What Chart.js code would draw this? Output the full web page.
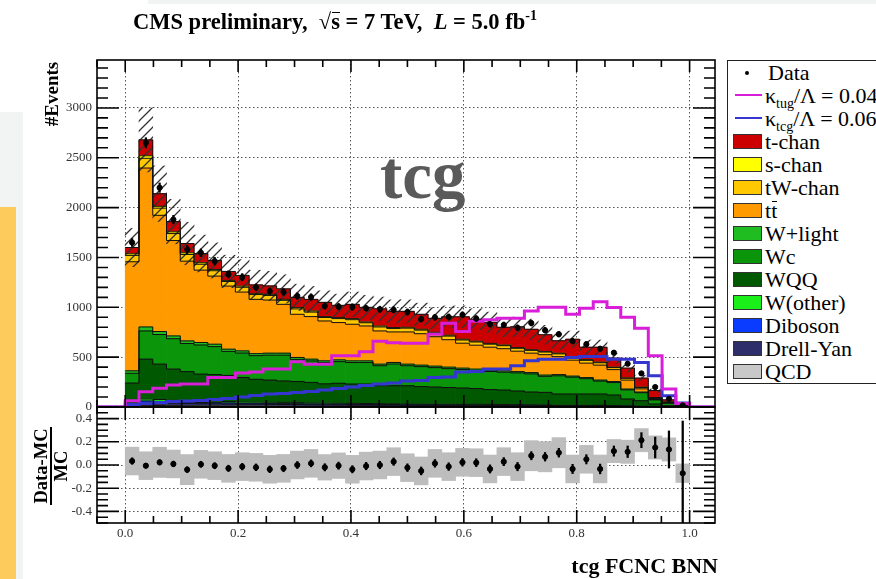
<!DOCTYPE html>
<html>
<head>
<meta charset="utf-8">
<script src="https://cdn.jsdelivr.net/npm/chart.js@4.4.1/dist/chart.umd.min.js"></script>
<style>
  body { margin: 0; width: 876px; height: 579px; overflow: hidden; position: relative; background: #fff;
         font-family: 'Liberation Serif', 'DejaVu Serif', serif; color: #000; }
  .abs { position: absolute; }
  #slideGrey { left: 0; top: 112px; width: 23px; height: 467px; background: #f2f4f4; }
  #slideBar { left: 0; top: 207px; width: 16px; height: 372px; background: #fdca5c; }
  #slideTop { left: 148px; top: 0; width: 728px; height: 4px; background: #f2f3f3; }
  #mainChart { left: 0; top: 0; }
  #ratioChart { left: 0; top: 391px; }
  #title { left: 133px; top: 11px; font-weight: bold; font-size: 22.5px; line-height: 22px; white-space: nowrap; }
  #title sup { font-size: 14px; vertical-align: 9px; line-height: 0; }
  .bar { position: relative; }
  .bar::before { content: ''; position: absolute; left: 1px; right: 0; top: 3px; border-top: 1.5px solid #000; }
  #ylab { left: 6px; top: 83px; width: 92px; height: 22px; line-height: 22px; text-align: center;
          font-weight: bold; font-size: 19px; transform: rotate(-90deg); transform-origin: 46px 11px; white-space: nowrap; }
  #rlab { left: 5px; top: 447px; width: 92px; height: 38px; transform: rotate(-90deg); transform-origin: 46px 19px;
          font-weight: bold; font-size: 18.5px; text-align: center; line-height: 18px; }
  #rlab .num { display: inline-block; border-bottom: 2px solid #000; padding: 0 1px; }
  #tag { left: 380px; top: 142px; font-weight: bold; font-size: 67px; line-height: 66px; color: #5a5a5a; }
  #xlab { right: 158px; top: 555px; font-weight: bold; font-size: 22px; line-height: 22px; white-space: nowrap; }
  #legend { left: 727px; top: 60px; width: 200px; height: 324px; border: 1px solid #222; background: #fff; box-sizing: border-box; }
  .row { position: absolute; left: 0; width: 190px; height: 23px; line-height: 23px; font-size: 22px; white-space: nowrap; }
  .row sub { font-size: 14px; vertical-align: -5px; line-height: 0; }
  .sw { position: absolute; left: 5px; top: 4px; width: 29px; height: 15px; border: 1px solid #333; box-sizing: border-box; }
  .ln { position: absolute; left: 7px; top: 10px; width: 27px; height: 2px; }
  .dot { position: absolute; left: 17px; top: 10px; width: 4px; height: 4px; border-radius: 50%; background: #000; }
  .txt { position: absolute; top: 0; }
</style>
</head>
<body>
<div id="slideGrey" class="abs"></div>
<div id="slideBar" class="abs"></div>
<div id="slideTop" class="abs"></div>
<canvas id="mainChart" class="abs" width="720" height="426"></canvas>
<canvas id="ratioChart" class="abs" width="720" height="188"></canvas>
<div id="title" class="abs">CMS preliminary,&nbsp; √<span class="bar">s</span> = 7 TeV,&nbsp; <i>L</i> = 5.0 fb<sup>-1</sup></div>
<div id="ylab" class="abs">#Events</div>
<div id="rlab" class="abs"><span class="num">Data-MC</span><br>MC</div>
<div id="tag" class="abs">tcg</div>
<div id="xlab" class="abs">tcg FCNC BNN</div>
<div id="legend" class="abs"></div>
<script>
// 41 equal bins of the BNN output between 0 and 1
const nBins = 41;
const binEdges = Array.from({ length: nBins + 1 }, (_, i) => i / nBins);
const binCenters = binEdges.slice(0, nBins).map(e => e + 0.5 / nBins);

// background components, bottom of the stack first
const qcd      = [8,16,15,14,13,12,12,11,10,10,10,9,9,8,8,8,7,7,7,7,6,6,6,6,6,5,5,5,5,5,4,4,4,4,3,3,2,2,1,1,0];
const drellYan = [14,28,26,25,23,21,20,19,18,18,17,16,15,15,14,13,13,12,12,12,11,11,11,10,10,9,9,9,8,8,8,7,7,6,6,5,4,3,2,1,0];
const diboson  = [8,16,15,14,13,12,12,11,10,10,10,9,9,8,8,8,7,7,7,7,6,6,6,6,6,6,5,5,5,5,5,4,4,4,4,3,3,2,2,1,1];
const wOther   = [10,20,19,17,16,15,14,14,13,12,11,12,11,11,10,9,9,9,8,7,9,8,7,7,6,7,7,6,6,5,5,5,4,4,4,4,3,3,1,0,0];
const wQQ      = [200,400,355,310,290,270,268,262,245,228,222,215,212,205,192,200,194,195,180,180,181,174,170,166,162,158,149,145,136,127,125,110,111,112,113,105,68,53,24,10,2];
const wc       = [98,283,297,305,282,292,280,241,245,237,250,259,222,215,213,217,216,216,200,218,201,200,195,190,186,181,181,179,182,182,161,183,169,154,130,125,92,80,41,25,8];
const wLight   = [25,40,30,28,26,25,24,22,22,20,20,20,19,18,18,18,17,17,16,16,16,15,15,15,14,14,14,13,13,13,12,12,11,11,10,10,8,7,4,2,1];
const ttbar    = [1094,1594,1166,957,800,726,683,633,590,545,533,490,433,427,400,374,367,350,333,306,323,315,295,275,250,240,230,223,205,195,205,180,160,145,150,120,90,32,10,6,2];
const tWchan   = [64,98,72,70,67,59,54,46,48,48,46,40,54,45,35,40,46,32,40,35,38,36,36,36,32,32,30,30,29,28,26,28,28,28,24,20,18,14,8,4,2];
const sChan    = [16,25,18,17,17,15,13,11,12,12,11,10,13,11,9,10,11,8,10,9,9,9,9,9,8,8,8,7,7,7,7,7,7,7,6,5,4,4,2,1,0];
const tChan    = [63,160,127,103,93,93,90,90,107,85,85,105,103,117,143,123,143,147,172,163,160,150,140,185,225,220,212,178,209,205,167,125,175,125,150,90,98,90,70,21,2];

// relative MC uncertainty (hatched band / grey ratio band)
const mcRelErr = [0.12,0.12,0.13,0.12,0.13,0.12,0.12,0.12,0.12,0.12,0.12,0.12,0.12,0.12,0.11,0.11,0.12,0.12,0.12,0.12,0.12,0.12,0.12,0.12,0.12,0.12,0.12,0.12,0.12,0.13,0.13,0.13,0.12,0.12,0.12,0.1,0.1,0.1,0.1,0.1,0.08];

// FCNC signal templates
const sigTug = [63,153,187,220,230,230,297,297,340,350,380,380,453,430,430,513,513,553,660,645,640,640,730,840,757,860,875,890,890,963,1000,1000,930,990,1055,997,900,790,513,180,35];
const sigTcg = [25,35,45,55,60,65,75,85,100,115,130,135,145,155,170,185,200,215,230,240,260,265,295,300,350,355,380,380,413,463,480,480,497,507,507,480,480,447,313,113,40];

// observed events
const dataCounts = [1650,2650,2200,1880,1580,1547,1463,1330,1302,1200,1163,1153,1113,1103,1013,1007,1003,990,980,975,953,883,900,903,925,887,830,823,795,842,770,730,660,630,585,545,434,337,200,82,17];
const dataErr    = [40,51,47,43,40,39,38,36,36,35,34,34,33,33,32,32,32,31,31,31,31,30,30,30,30,30,29,29,28,29,28,27,26,25,24,23,21,18,14,9,4];

// (Data-MC)/MC per bin
const ratioVals = [0.034,-0.006,0.023,0.009,-0.04,0.006,-0.006,-0.029,-0.014,-0.02,-0.037,-0.029,0.0,0.014,-0.02,-0.006,-0.037,-0.009,0.0,0.029,-0.023,-0.051,0.014,-0.014,0.023,0.02,-0.034,0.029,-0.014,0.08,0.071,0.106,-0.034,0.049,-0.034,0.12,0.114,0.214,0.151,0.134,-0.071];
const ratioErr  = [0.028,0.02,0.022,0.024,0.025,0.026,0.026,0.027,0.028,0.029,0.029,0.029,0.03,0.03,0.031,0.031,0.031,0.032,0.032,0.032,0.033,0.034,0.033,0.033,0.033,0.034,0.035,0.035,0.036,0.035,0.037,0.038,0.04,0.04,0.042,0.044,0.05,0.065,0.09,0.16,0.45];

const mainTicks = [0, 500, 1000, 1500, 2000, 2500, 3000];
const ratioTicks = [-0.4, -0.2, 0, 0.2, 0.4];
const xTicks = [0, 0.2, 0.4, 0.6, 0.8, 1.0];

const tugColor = '#d81ed8';
const tcgColor = '#3535d0';

const mcSeries = [
  { html: 'QCD', values: qcd, color: '#c8c8c8' },
  { html: 'Drell-Yan', values: drellYan, color: '#2e2e6a' },
  { html: 'Diboson', values: diboson, color: '#0a3cff' },
  { html: 'W(other)', values: wOther, color: '#1aef1a' },
  { html: 'WQQ', values: wQQ, color: '#005800' },
  { html: 'Wc', values: wc, color: '#0b950b' },
  { html: 'W+light', values: wLight, color: '#1fbd1f' },
  { html: 't<span class="bar">t</span>', values: ttbar, color: '#ff9a00' },
  { html: 'tW-chan', values: tWchan, color: '#ffc800' },
  { html: 's-chan', values: sChan, color: '#ffff00' },
  { html: 't-chan', values: tChan, color: '#cc0000' }
];

const mcTotal = binCenters.map((_, i) => mcSeries.reduce((sum, s) => sum + s.values[i], 0));

Chart.defaults.font.family = "'Liberation Serif', serif";

function hatchPattern() {
  const c = document.createElement('canvas');
  c.width = 10; c.height = 10;
  const g = c.getContext('2d');
  g.strokeStyle = '#333';
  g.lineWidth = 1.3;
  g.beginPath();
  g.moveTo(0, 10); g.lineTo(10, 0);
  g.moveTo(-2, 2); g.lineTo(2, -2);
  g.moveTo(8, 12); g.lineTo(12, 8);
  g.stroke();
  return g.createPattern(c, 'repeat');
}

// frame with inward tick marks on all four sides
const frameTicks = {
  id: 'frameTicks',
  afterDatasetsDraw(chart, args, o) {
    const { ctx, chartArea: a } = chart;
    const xs = chart.scales.x, ys = chart.scales.y;
    ctx.save();
    ctx.strokeStyle = '#000';
    ctx.lineWidth = 1.6;
    ctx.beginPath();
    for (let k = Math.ceil(xs.min / o.xStep - 1e-6); k <= Math.floor(xs.max / o.xStep + 1e-6); k++) {
      const px = xs.getPixelForValue(k * o.xStep);
      const len = k % o.xEvery === 0 ? o.xMajor : o.xMinor;
      ctx.moveTo(px, a.bottom); ctx.lineTo(px, a.bottom - len);
      ctx.moveTo(px, a.top); ctx.lineTo(px, a.top + len);
    }
    for (let k = Math.ceil(ys.min / o.yStep - 1e-6); k <= Math.floor(ys.max / o.yStep + 1e-6); k++) {
      const py = ys.getPixelForValue(k * o.yStep);
      const len = k % o.yEvery === 0 ? o.yMajor : o.yMinor;
      ctx.moveTo(a.left, py); ctx.lineTo(a.left + len, py);
      ctx.moveTo(a.right, py); ctx.lineTo(a.right - len, py);
    }
    ctx.stroke();
    ctx.strokeRect(a.left, a.top, a.right - a.left, a.bottom - a.top);
    ctx.restore();
  }
};

const dottedGrid = { color: '#555', lineWidth: 1, drawTicks: false };
const dottedBorder = { display: false, dash: [1.5, 2.5] };
const tickFont = { family: "'Liberation Serif', serif", size: 13 };

// stacked background bars
const mcBars = mcSeries.map(s => ({
  type: 'bar',
  data: s.values.map((v, i) => ({ x: binCenters[i], y: v })),
  backgroundColor: s.color,
  borderWidth: 0,
  stack: 'mc',
  order: 6,
  barPercentage: 1,
  categoryPercentage: 1
}));

// black step outline on top of every stacked component
const mcOutlines = mcSeries.map(s => {
  const pts = s.values.map((v, i) => ({ x: binEdges[i], y: v }));
  pts.push({ x: 1, y: 0 });
  return {
    type: 'line', data: pts, stepped: 'before', borderColor: '#111', borderWidth: 1,
    pointRadius: 0, fill: false, stack: 'outline', order: 4
  };
});

function signalLine(values, color) {
  const pts = [{ x: -0.05, y: 0 }];
  values.forEach((v, i) => pts.push({ x: binEdges[i], y: v }));
  pts.push({ x: 1, y: 0 }, { x: 1.045, y: 0 });
  return { type: 'line', data: pts, stepped: 'before', borderColor: color, borderWidth: 3, pointRadius: 0, fill: false, order: 3 };
}

const hatchBand = {
  type: 'bar',
  data: mcTotal.map((t, i) => ({ x: binCenters[i], y: [t * (1 - mcRelErr[i]), t * (1 + mcRelErr[i])] })),
  backgroundColor: hatchPattern(),
  borderWidth: 0,
  grouped: false,
  order: 5,
  barPercentage: 1,
  categoryPercentage: 1
};

const dataErrBars = {
  type: 'bar',
  data: dataCounts.map((d, i) => ({ x: binCenters[i], y: [d - dataErr[i], d + dataErr[i]] })),
  backgroundColor: '#000',
  borderWidth: 0,
  grouped: false,
  barThickness: 1.6,
  order: 2
};

const dataPoints = {
  type: 'line',
  data: dataCounts.map((d, i) => ({ x: binCenters[i], y: d })),
  showLine: false,
  pointRadius: 2.6,
  pointBackgroundColor: '#000',
  pointBorderColor: '#000',
  order: 1
};

new Chart(document.getElementById('mainChart'), {
  type: 'bar',
  data: {
    datasets: [...mcBars, hatchBand, ...mcOutlines, signalLine(sigTug, tugColor), signalLine(sigTcg, tcgColor), dataErrBars, dataPoints]
  },
  options: {
    responsive: false,
    animation: false,
    layout: { padding: { top: 60, right: 3, left: 0, bottom: 16 } },
    plugins: {
      legend: { display: false },
      tooltip: { enabled: false },
      frameTicks: { xStep: 0.05, xEvery: 4, xMajor: 12, xMinor: 7, yStep: 100, yEvery: 5, yMajor: 22, yMinor: 11 }
    },
    scales: {
      x: {
        type: 'linear', min: -0.05, max: 1.045, offset: false,
        afterBuildTicks: s => { s.ticks = xTicks.map(v => ({ value: v })); },
        afterFit: s => { s.height = 3; },
        ticks: { display: false },
        grid: { ...dottedGrid, offset: false },
        border: dottedBorder
      },
      y: {
        type: 'linear', min: 0, max: 3481,
        afterBuildTicks: s => { s.ticks = mainTicks.map(v => ({ value: v })); },
        afterFit: s => { s.width = 97; },
        ticks: { font: tickFont, color: '#333', padding: 5, callback: v => String(v) },
        grid: dottedGrid,
        border: dottedBorder
      }
    }
  },
  plugins: [frameTicks]
});

// ratio panel
const ratioBand = {
  type: 'bar',
  data: ratioVals.map((r, i) => ({ x: binCenters[i], y: [r - mcRelErr[i], r + mcRelErr[i]] })),
  backgroundColor: '#bdbdbd',
  borderWidth: 0,
  order: 3,
  barPercentage: 1,
  categoryPercentage: 1
};

const ratioErrBars = {
  type: 'bar',
  data: ratioVals.map((r, i) => ({ x: binCenters[i], y: [r - ratioErr[i], r + ratioErr[i]] })),
  backgroundColor: '#000',
  borderWidth: 0,
  grouped: false,
  barThickness: 1.6,
  order: 2
};

const ratioPoints = {
  type: 'line',
  data: ratioVals.map((r, i) => ({ x: binCenters[i], y: r })),
  showLine: false,
  pointRadius: 2.6,
  pointBackgroundColor: '#000',
  pointBorderColor: '#000',
  order: 1
};

new Chart(document.getElementById('ratioChart'), {
  type: 'bar',
  data: { datasets: [ratioBand, ratioErrBars, ratioPoints] },
  options: {
    responsive: false,
    animation: false,
    layout: { padding: { top: 16, right: 3, left: 0, bottom: 0 } },
    plugins: {
      legend: { display: false },
      tooltip: { enabled: false },
      frameTicks: { xStep: 0.05, xEvery: 4, xMajor: 13, xMinor: 7, yStep: 0.05, yEvery: 4, yMajor: 22, yMinor: 11 }
    },
    scales: {
      x: {
        type: 'linear', min: -0.05, max: 1.045, offset: false,
        afterBuildTicks: s => { s.ticks = xTicks.map(v => ({ value: v })); },
        afterFit: s => { s.height = 56; },
        ticks: { font: tickFont, color: '#333', padding: 3, callback: v => v.toFixed(1) },
        grid: { ...dottedGrid, offset: false },
        border: dottedBorder
      },
      y: {
        type: 'linear', min: -0.5, max: 0.5,
        afterBuildTicks: s => { s.ticks = ratioTicks.map(v => ({ value: v })); },
        afterFit: s => { s.width = 97; },
        ticks: { font: tickFont, color: '#333', padding: 5, callback: v => v.toFixed(1) },
        grid: dottedGrid,
        border: dottedBorder
      }
    }
  },
  plugins: [frameTicks]
});

// legend box
const legendRows = [
  { kind: 'dot', html: 'Data' },
  { kind: 'line', color: tugColor, html: 'κ<sub>tug</sub>/Λ = 0.04' },
  { kind: 'line', color: tcgColor, html: 'κ<sub>tcg</sub>/Λ = 0.06' },
  ...mcSeries.slice().reverse().map(s => ({ kind: 'box', color: s.color, html: s.html }))
];
const legendBox = document.getElementById('legend');
legendRows.forEach((r, i) => {
  const row = document.createElement('div');
  row.className = 'row';
  row.style.top = (i * 23) + 'px';
  let mark = '';
  if (r.kind === 'dot') mark = '<span class="dot"></span>';
  else if (r.kind === 'line') mark = `<span class="ln" style="background:${r.color}"></span>`;
  else mark = `<span class="sw" style="background:${r.color}"></span>`;
  const left = r.kind === 'dot' ? 40 : 37;
  row.innerHTML = `${mark}<span class="txt" style="left:${left}px">${r.html}</span>`;
  legendBox.appendChild(row);
});
</script>
</body>
</html>
